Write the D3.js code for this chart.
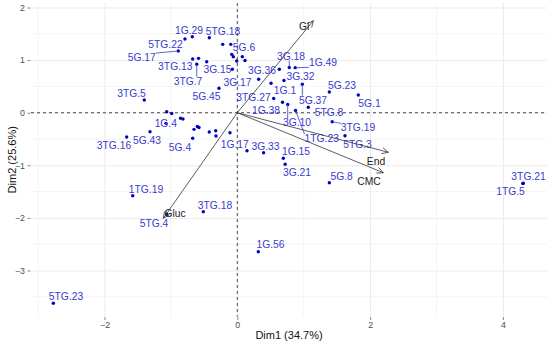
<!DOCTYPE html>
<html>
<head>
<meta charset="utf-8">
<script src="https://cdn.jsdelivr.net/npm/d3@7.9.0/dist/d3.min.js"></script>
<style>
  body { margin: 0; background: #fff; }
  svg { display: block; font-family: "Liberation Sans", Arial, sans-serif; }
  .grid line { stroke: #ebebeb; }
  .grid .minor { stroke: #f4f4f4; }
</style>
</head>
<body>
<svg id="chart" width="550" height="345"></svg>
<script>
// Individuals (PCA scores). Empty name = label dropped by repel.
const indNames = [
  '5TG.22', '1G.29', '5TG.18', '5G.17', '', '', '', '5G.6', '', '', '',
  '3TG.13', '', '3TG.7', '', '3G.15', '5G.45', '3TG.5',
  '3G.36', '3G.18', '1G.49', '3G.17', '1G.1', '3G.32', '5G.37', '5G.23', '5G.1',
  '3TG.27', '1G.38', '3G.10', '1TG.23', '5TG.8', '3TG.19', '5TG.3',
  '1G.17', '3G.33', '1G.15', '3G.21', '5G.8', '3TG.18',
  '', '', '', '', '1G.4', '5G.43', '3TG.16', '', '', '', '5G.4', '', '', '', '',
  '1TG.19', '5TG.4', '5TG.23', '1G.56', '3TG.21', '1TG.5'
];
const dim1 = [
  -0.788, -0.678, -0.422, -0.889, -0.220, -0.099, -0.084, -0.060, -0.009, 0.075, 0.116,
  -0.672, -0.584, -0.611, -0.461, -0.075, -0.276, -1.401,
  0.633, 0.783, 0.872, 0.322, 0.508, 0.703, 0.979, 1.386, 1.822,
  0.548, 0.681, 0.759, 0.877, 1.069, 1.429, 1.622,
  0.146, 0.396, 0.693, 0.721, 1.386, -0.512,
  -1.063, -0.988, -0.855, -0.818, -1.074, -1.315, -1.666, -0.652, -0.602, -0.577, -0.672, -0.422, -0.325, -0.321, -0.110,
  -1.575, -1.063, -2.771, 0.316, 4.307, 4.300
];
const dim2 = [
  1.401, 1.445, 1.426, 1.173, 1.300, 1.300, 1.110, 1.065, 0.983, 1.065, 0.992,
  1.021, 1.034, 0.920, 0.970, 0.825, 0.464, 0.241,
  0.827, 0.859, 0.857, 0.635, 0.561, 0.612, 0.540, 0.394, 0.337,
  0.270, 0.200, 0.156, 0.042, 0.103, -0.171, -0.439,
  -0.724, -0.760, -0.867, -0.981, -1.331, -1.882,
  0.019, -0.015, -0.106, -0.120, -0.202, -0.363, -0.462, -0.316, -0.262, -0.281, -0.487, -0.367, -0.344, -0.443, -0.380,
  -1.578, -1.932, -3.624, -2.643, -1.342, -1.345
];
// Repelled label positions (data units)
const labelDim1 = [
  -1.081, -0.727, -0.215, -1.440, null, null, null, 0.101, null, null, null,
  -0.934, null, -0.742, null, -0.298, -0.464, -1.593,
  0.372, 0.809, 1.291, 0.003, 0.718, 0.952, 1.140, 1.577, 1.991,
  0.244, 0.432, 0.899, 1.271, 1.381, 1.818, 1.810,
  -0.039, 0.425, 0.884, 0.899, 1.572, -0.336,
  null, null, null, null, -1.077, -1.360, -1.857, null, null, null, -0.863, null, null, null, null,
  -1.375, -1.254, -2.580, 0.500, 4.386, 4.114
];
const labelDim2 = [
  1.306, 1.572, 1.540, 1.053, null, null, null, 1.236, null, null, null,
  0.875, null, 0.603, null, 0.831, 0.304, 0.369,
  0.812, 1.078, 0.951, 0.570, 0.418, 0.698, 0.241, 0.527, 0.179,
  0.293, 0.038, -0.190, -0.487, 0.000, -0.285, -0.601,
  -0.601, -0.633, -0.741, -1.141, -1.203, -1.755,
  null, null, null, null, -0.202, -0.532, -0.627, null, null, null, -0.658, null, null, null, null,
  -1.451, -2.103, -3.498, -2.502, -1.217, -1.502
];
const leaderLabels = ['5G.17', '3TG.7', '3G.18', '1G.49', '5G.37', '3G.10', '1TG.23', '3TG.19'];

// Variables (arrows)
const varNames = ['Gl', 'End', 'CMC', 'Gluc'];
const varDim1 = [1.145, 2.274, 2.199, -1.114];
const varDim2 = [1.749, -0.753, -1.141, -2.008];
const varLabelDim1 = [1.005, 2.089, 1.983, -0.938];
const varLabelDim2 = [1.648, -0.932, -1.312, -1.907];

const xTicks = [-2, 0, 2, 4];
const yTicks = [-3, -2, -1, 0, 1, 2];
const xTitle = 'Dim1 (34.7%)';
const yTitle = 'Dim2 (25.6%)';

const svg = d3.select('#chart');
const panel = { left: 31, right: 547, top: 3, bottom: 316.5 };

const x = d3.scaleLinear().domain([-3.107, 4.664]).range([panel.left, panel.right]);
const y = d3.scaleLinear().domain([-3.875, 2.086]).range([panel.bottom, panel.top]);

// Grid
const grid = svg.append('g').attr('class', 'grid');
const xMinor = d3.range(-3, 5, 1).filter(v => !xTicks.includes(v));
const yMinor = d3.range(-3.5, 2.01, 0.5).filter(v => !yTicks.includes(v));
grid.selectAll('.minor-x').data(xMinor).join('line')
  .attr('class', 'minor')
  .attr('x1', d => x(d)).attr('x2', d => x(d))
  .attr('y1', panel.top).attr('y2', panel.bottom);
grid.selectAll('.minor-y').data(yMinor).join('line')
  .attr('class', 'minor')
  .attr('y1', d => y(d)).attr('y2', d => y(d))
  .attr('x1', panel.left).attr('x2', panel.right);

const xAxis = svg.append('g')
  .attr('transform', `translate(0,${panel.bottom})`)
  .call(d3.axisBottom(x).tickValues(xTicks).tickFormat(d3.format('d'))
    .tickSize(-(panel.bottom - panel.top)).tickSizeOuter(0).tickPadding(5));
const yAxis = svg.append('g')
  .attr('transform', `translate(${panel.left},0)`)
  .call(d3.axisLeft(y).tickValues(yTicks).tickFormat(d3.format('d'))
    .tickSize(-(panel.right - panel.left)).tickSizeOuter(0).tickPadding(6));

[xAxis, yAxis].forEach(g => {
  g.select('.domain').remove();
  g.selectAll('.tick line').attr('stroke', '#ebebeb');
  g.selectAll('.tick text').attr('fill', '#4d4d4d').style('font-size', '8.8px');
});

// small tick marks outside the panel
xAxis.selectAll('.tick').append('line')
  .attr('y1', 0.5).attr('y2', 3.5).attr('stroke', '#555').attr('stroke-width', 0.7);
yAxis.selectAll('.tick').append('line')
  .attr('x1', -0.5).attr('x2', -3.5).attr('stroke', '#555').attr('stroke-width', 0.7);

// Reference lines
svg.append('line')
  .attr('x1', panel.left).attr('x2', panel.right)
  .attr('y1', y(0)).attr('y2', y(0))
  .attr('stroke', '#222').attr('stroke-width', 0.8).attr('stroke-dasharray', '3,3');
svg.append('line')
  .attr('x1', x(0)).attr('x2', x(0))
  .attr('y1', panel.top).attr('y2', panel.bottom)
  .attr('stroke', '#222').attr('stroke-width', 0.8).attr('stroke-dasharray', '3,3');

// Individuals
const inds = indNames.map((name, i) => ({
  name, x: dim1[i], y: dim2[i], lx: labelDim1[i], ly: labelDim2[i]
}));

svg.append('g').selectAll('circle').data(inds).join('circle')
  .attr('cx', d => x(d.x))
  .attr('cy', d => y(d.y))
  .attr('r', 1.7)
  .attr('fill', '#0000c0');

const labelled = inds.filter(d => d.name && d.lx != null);
const labelG = svg.append('g');
const texts = labelG.selectAll('text').data(labelled).join('text')
  .attr('x', d => x(d.lx))
  .attr('y', d => y(d.ly))
  .attr('dy', '0.36em')
  .attr('text-anchor', 'middle')
  .attr('fill', '#3a3ad0')
  .style('font-size', '10.3px')
  .text(d => d.name);

// leader segments from point to the nearest edge of its label box
texts.each(function (d) {
  if (!leaderLabels.includes(d.name)) return;
  const b = this.getBBox();
  const px = x(d.x), py = y(d.y);
  const tx = Math.max(b.x, Math.min(px, b.x + b.width));
  const ty = Math.max(b.y + 1, Math.min(py, b.y + b.height - 1));
  labelG.insert('line', 'text')
    .attr('x1', px).attr('y1', py).attr('x2', tx).attr('y2', ty)
    .attr('stroke', '#3a3ad0').attr('stroke-width', 0.8);
});

// Variable arrows
const vars = varNames.map((name, i) => ({
  name, x: varDim1[i], y: varDim2[i], lx: varLabelDim1[i], ly: varLabelDim2[i]
}));
const arrowG = svg.append('g').attr('stroke', '#333').attr('stroke-width', 0.8).attr('fill', 'none');
vars.forEach(v => {
  const x0 = x(0), y0 = y(0), x1 = x(v.x), y1 = y(v.y);
  arrowG.append('line').attr('x1', x0).attr('y1', y0).attr('x2', x1).attr('y2', y1);
  const ang = Math.atan2(y1 - y0, x1 - x0);
  const len = 7, spread = Math.PI / 7;
  const pts = [
    [x1 - len * Math.cos(ang - spread), y1 - len * Math.sin(ang - spread)],
    [x1, y1],
    [x1 - len * Math.cos(ang + spread), y1 - len * Math.sin(ang + spread)]
  ];
  arrowG.append('polyline').attr('points', pts.map(p => p.join(',')).join(' '));
});
svg.append('g').selectAll('text').data(vars).join('text')
  .attr('x', d => x(d.lx))
  .attr('y', d => y(d.ly))
  .attr('dy', '0.36em')
  .attr('text-anchor', 'middle')
  .attr('fill', '#222')
  .style('font-size', '10.3px')
  .text(d => d.name);

// Axis titles
svg.append('text')
  .attr('x', (panel.left + panel.right) / 2)
  .attr('y', 339)
  .attr('text-anchor', 'middle')
  .attr('fill', '#111')
  .style('font-size', '11px')
  .text(xTitle);
svg.append('text')
  .attr('transform', `translate(16,${(panel.top + panel.bottom) / 2}) rotate(-90)`)
  .attr('text-anchor', 'middle')
  .attr('fill', '#111')
  .style('font-size', '11px')
  .text(yTitle);
</script>
</body>
</html>
